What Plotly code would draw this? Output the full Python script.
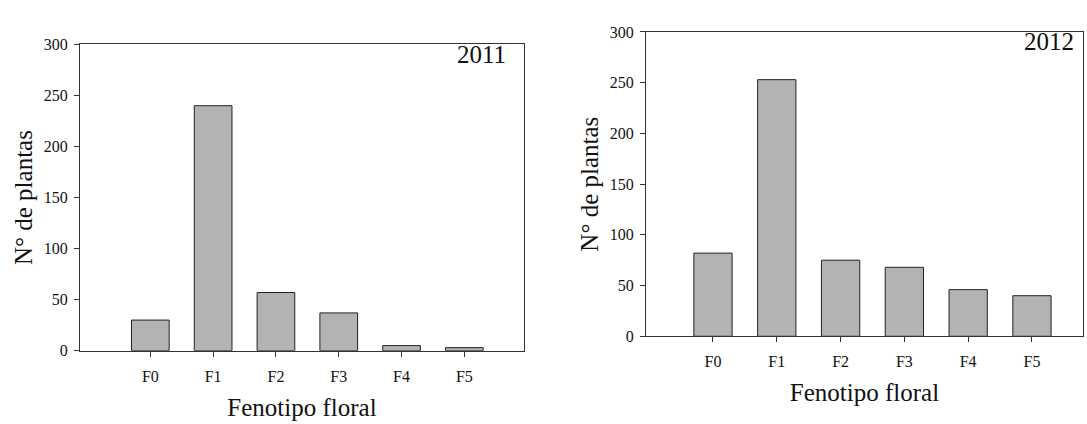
import plotly.graph_objects as go

categories = ["F0", "F1", "F2", "F3", "F4", "F5"]
values_2011 = [30, 240, 57, 37, 5, 3]
values_2012 = [82, 253, 75, 68, 46, 40]
y_ticks = [0, 50, 100, 150, 200, 250, 300]

FONT = "Liberation Serif"
BAR = "#b3b3b3"

fig = go.Figure()
fig.add_trace(go.Bar(x=categories, y=values_2011, xaxis="x", yaxis="y",
                     marker=dict(color=BAR, line=dict(color="#222", width=1)),
                     width=0.6, showlegend=False))
fig.add_trace(go.Bar(x=categories, y=values_2012, xaxis="x2", yaxis="y2",
                     marker=dict(color=BAR, line=dict(color="#222", width=1)),
                     width=0.6, showlegend=False))

W, H = 1087, 424
def fx(p): return p / W
def fy(p): return 1 - p / H

axis_common = dict(showline=True, linecolor="#333", linewidth=1, mirror=True,
                   showgrid=False, zeroline=False, ticks="outside", ticklen=5,
                   tickcolor="#333", tickfont=dict(family=FONT, size=16, color="#111"))
title_font = dict(family=FONT, size=25, color="#111")

fig.update_layout(
    width=W, height=H,
    margin=dict(l=0, r=0, t=0, b=0),
    font=dict(family=FONT, color="#111"),
    paper_bgcolor="white", plot_bgcolor="white",
    xaxis=dict(domain=[fx(80), fx(524)], range=[-1.12, 5.95], type="category",
               anchor="y", ticklabelstandoff=6,
               title=dict(text="Fenotipo floral", font=title_font, standoff=14),
               **axis_common),
    yaxis=dict(domain=[fy(357), fy(38)], range=[0, 300], tickvals=y_ticks, anchor="x",
               ticklabelstandoff=3,
               title=dict(text="N° de plantas", font=title_font, standoff=4),
               **axis_common),
    xaxis2=dict(domain=[fx(646), fx(1083)], range=[-1.05, 5.8], type="category",
                anchor="y2", ticklabelstandoff=6,
                title=dict(text="Fenotipo floral", font=title_font, standoff=14),
                **axis_common),
    yaxis2=dict(domain=[fy(342), fy(25)], range=[0, 300], tickvals=y_ticks, anchor="x2",
                ticklabelstandoff=3,
                title=dict(text="N° de plantas", font=title_font, standoff=4),
                **axis_common),
    annotations=[
        dict(text="2011", x=fx(508), y=fy(48), xref="paper", yref="paper",
             xanchor="right", yanchor="middle", showarrow=False,
             font=dict(family=FONT, size=25, color="#111")),
        dict(text="2012", x=fx(1076), y=fy(35), xref="paper", yref="paper",
             xanchor="right", yanchor="middle", showarrow=False,
             font=dict(family=FONT, size=25, color="#111")),
    ],
)

fig.write_html("out.html")
